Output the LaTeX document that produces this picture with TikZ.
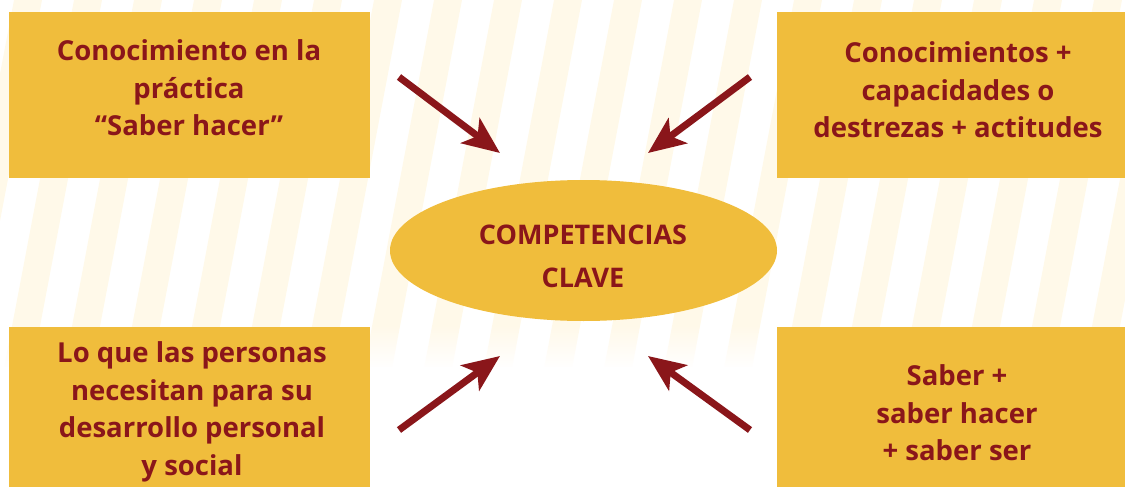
\documentclass[tikz,border=0pt]{standalone}
\usepackage{fontspec}
\setmainfont{Open Sans}
\usetikzlibrary{arrows.meta,shapes.geometric,fadings}
\definecolor{boxy}{RGB}{240,189,60}
\definecolor{darkr}{RGB}{138,22,26}
\definecolor{stripe}{RGB}{255,249,233}
\tikzfading[name=whiteout, top color=transparent!100, bottom color=transparent!0]
\begin{document}
\begin{tikzpicture}[x=1pt,y=-1pt,
  box/.style={fill=boxy, draw=none, rectangle, inner sep=0pt},
  txt/.style={text=darkr, font=\fontsize{27.5}{37.5}\selectfont\bfseries, align=center, inner sep=0pt},
  arr/.style={draw=darkr, line width=7pt, -{Stealth[length=37pt, width=31pt, inset=9pt]}}]
\useasboundingbox (0,0) rectangle (1125,487);
% background stripes
\foreach \k in {-1,...,20}{
  \fill[stripe] ({14+60*\k},0) -- ({42+60*\k},0) -- ({42+60*\k-0.19*487},487) -- ({14+60*\k-0.19*487},487) -- cycle;
}
\fill[white, path fading=whiteout] (0,325) rectangle (1125,368);
\fill[white] (0,367) rectangle (1125,487);
% boxes
\node[box, minimum width=361pt, minimum height=166pt] (tl) at (189.5,95) {};
\node[box, minimum width=348pt, minimum height=166pt] (tr) at (951,95) {};
\node[box, minimum width=361pt, minimum height=160pt] (bl) at (189.5,407) {};
\node[box, minimum width=348pt, minimum height=160pt] (br) at (951,407) {};
\node[ellipse, fill=boxy, minimum width=387pt, minimum height=141pt, inner sep=0pt] (cc) at (583.5,250.5) {};
% texts
\node[txt] (tlt) at (189,88) {Conocimiento en la\\práctica\\“Saber hacer”};
\node[txt] (trt) at (958,90) {Conocimientos +\\capacidades o\\destrezas + actitudes};
\node[txt] (blt) at (192,412) {Lo que las personas\\necesitan para su\\desarrollo personal\\y social};
\node[txt] (brt) at (957,413) {Saber +\\saber hacer\\+ saber ser};
\node[txt, font=\fontsize{27}{43}\selectfont\bfseries] (cct) at (583,256) {COMPETENCIAS\\CLAVE};
% arrow ends
\coordinate (a1s) at (399,77);  \coordinate (a1e) at (500,153);
\coordinate (a2s) at (750,77);  \coordinate (a2e) at (648,153);
\coordinate (a3s) at (399,430); \coordinate (a3e) at (500,356);
\coordinate (a4s) at (750,430); \coordinate (a4e) at (648,356);
\draw[arr] (a1s) -- (a1e);
\draw[arr] (a2s) -- (a2e);
\draw[arr] (a3s) -- (a3e);
\draw[arr] (a4s) -- (a4e);
\end{tikzpicture}
\end{document}
